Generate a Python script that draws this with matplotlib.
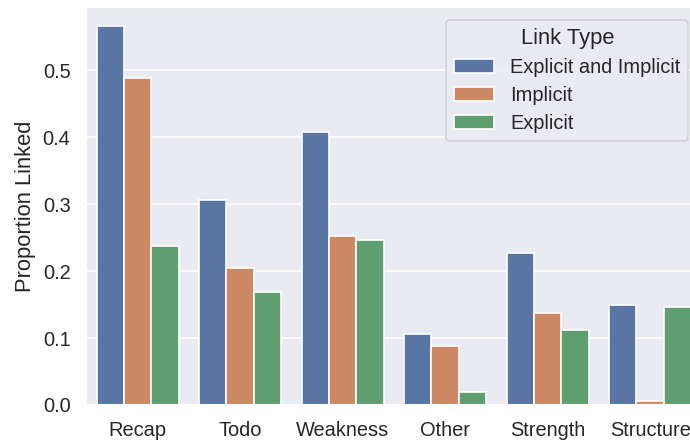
import matplotlib
matplotlib.use("Agg")
import matplotlib.pyplot as plt
import seaborn as sns
import pandas as pd

categories = ["Recap", "Todo", "Weakness", "Other", "Strength", "Structure"]
link_types = ["Explicit and Implicit", "Implicit", "Explicit"]
both_vals = [0.566, 0.306, 0.407, 0.106, 0.227, 0.149]
implicit_vals = [0.489, 0.204, 0.252, 0.088, 0.138, 0.006]
explicit_vals = [0.238, 0.169, 0.247, 0.020, 0.112, 0.146]

rows = []
for lt, vals in zip(link_types, [both_vals, implicit_vals, explicit_vals]):
    for c, v in zip(categories, vals):
        rows.append({"Category": c, "Link Type": lt, "Proportion Linked": v})
df = pd.DataFrame(rows)

sns.set_theme(style="darkgrid")
plt.rcParams['font.family'] = ['Liberation Sans', 'DejaVu Sans']

W, H = 690, 442
fig = plt.figure(figsize=(W / 120, H / 120), dpi=120)
left, right, top, bottom = 86.4, 701.4, 7, 405
ax = fig.add_axes([left / W, (H - bottom) / H, (right - left) / W, (bottom - top) / H])

sns.barplot(data=df, x="Category", y="Proportion Linked", hue="Link Type",
            hue_order=link_types, order=categories, ax=ax,
            edgecolor="white", linewidth=1)
ax.set_xlabel("")
ax.set_ylabel("Proportion Linked", fontsize=13.2)
ax.tick_params(labelsize=12)
ax.legend(title="Link Type", loc="upper right", fontsize=12, title_fontsize=13.2,
          borderaxespad=0.65, labelspacing=0.45)

fig.savefig("out.png", dpi=120)
